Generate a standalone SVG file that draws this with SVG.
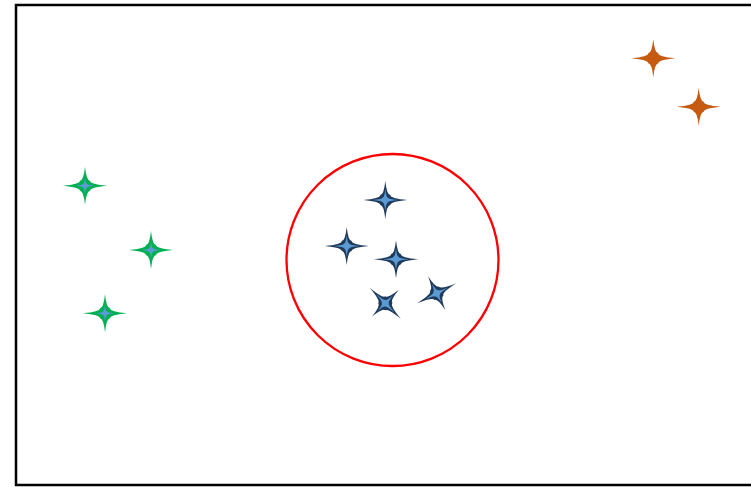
<svg xmlns="http://www.w3.org/2000/svg" xmlns:xlink="http://www.w3.org/1999/xlink" width="751" height="487" viewBox="0 0 751 487">
<style>
.frame{fill:#fff;stroke:#000;stroke-width:2.5}
.dark{fill:#203a5a}
.lb{fill:#5b9bd5}
.green{fill:#00b050}
.orange{fill:#c55a11}
</style>
<defs>
<path id="outer" d="M0,-19 Q1.5,-5 5,-5 Q5,-1.5 22,0 Q5,1.5 5,5 Q1.5,5 0,19 Q-1.5,5 -5,5 Q-5,1.5 -22,0 Q-5,-1.5 -5,-5 Q-1.5,-5 0,-19 Z"/>
<path id="inner" d="M0,-11 Q0.8,-2.5 2.5,-2.5 Q2.5,-0.8 13,0 Q2.5,0.8 2.5,2.5 Q0.8,2.5 0,11 Q-0.8,2.5 -2.5,2.5 Q-2.5,0.8 -13,0 Q-2.5,-0.8 -2.5,-2.5 Q-0.8,-2.5 0,-11 Z"/>
<path id="innerS" d="M0,-8 Q0.7,-2 2,-2 Q2,-0.7 9,0 Q2,0.7 2,2 Q0.7,2 0,8 Q-0.7,2 -2,2 Q-2,0.7 -9,0 Q-2,-0.7 -2,-2 Q-0.7,-2 0,-8 Z"/>
</defs>
<rect class="frame" x="16" y="5" width="745" height="480"/>
<circle id="cluster" cx="392.5" cy="260" r="106" fill="none" stroke="#ff0000" stroke-width="2.3"/>
<g id="blue1" transform="translate(385.3,200)"><use href="#outer" class="dark"/><use href="#inner" class="lb"/></g>
<g id="blue2" transform="translate(346.7,246)"><use href="#outer" class="dark"/><use href="#inner" class="lb"/></g>
<g id="blue3" transform="translate(396,259.3)"><use href="#outer" class="dark"/><use href="#inner" class="lb"/></g>
<g id="blue4" transform="translate(385.3,303.3) rotate(45)"><use href="#outer" class="dark"/><use href="#inner" class="lb"/></g>
<g id="blue5" transform="translate(436.7,293.3) rotate(-27)"><use href="#outer" class="dark"/><use href="#inner" class="lb"/></g>
<g id="green1" transform="translate(85,185.7)"><use href="#outer" class="green"/><use href="#innerS" class="lb"/></g>
<g id="green2" transform="translate(151,250)"><use href="#outer" class="green"/><use href="#innerS" class="lb"/></g>
<g id="green3" transform="translate(105,313.3)"><use href="#outer" class="green"/><use href="#innerS" class="lb"/></g>
<g id="orange1" transform="translate(653.3,58.3)"><use href="#outer" class="orange"/></g>
<g id="orange2" transform="translate(698.7,106.7)"><use href="#outer" class="orange"/></g>
<g id="connectors"/>
</svg>
